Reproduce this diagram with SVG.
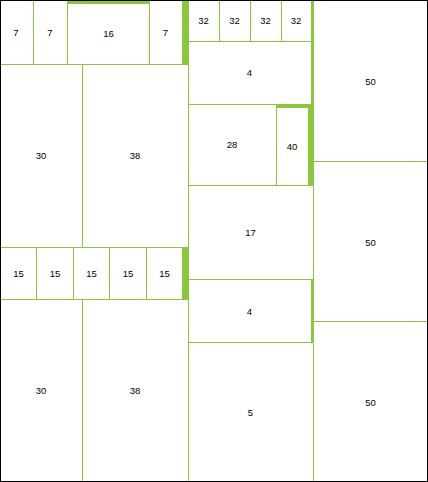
<svg xmlns="http://www.w3.org/2000/svg" width="428" height="482" viewBox="0 0 428 482">
<style>
.cell{fill:#fff;stroke:#8cc63e;stroke-width:1}
.gap{fill:#8cc63e}
.lbl{font-family:"Liberation Sans",Arial,sans-serif;font-size:9.5px;fill:#000;text-anchor:middle}
</style>
<rect x="0" y="0" width="428" height="482" fill="#fff"/>
<g id="gaps">
<rect class="gap" x="182" y="0" width="6" height="64"/>
<rect class="gap" x="67" y="0" width="82" height="3"/>
<rect class="gap" x="182" y="247" width="6" height="52"/>
<rect class="gap" x="311" y="0" width="2" height="104"/>
<rect class="gap" x="276" y="104" width="32" height="3"/>
<rect class="gap" x="308" y="104" width="5" height="81"/>
<rect class="gap" x="311" y="279" width="2" height="63"/>
</g>
<g id="n1"><rect class="cell" x="0.5" y="0.5" width="33" height="64"/><text class="lbl" x="16" y="35.5">7</text></g>
<g id="n2"><rect class="cell" x="33.5" y="0.5" width="34" height="64"/><text class="lbl" x="50" y="35.5">7</text></g>
<g id="n3"><rect class="cell" x="67.5" y="3.5" width="82" height="61"/><text class="lbl" x="108.5" y="37">16</text></g>
<g id="n4"><rect class="cell" x="149.5" y="0.5" width="33" height="64"/><text class="lbl" x="165.5" y="35.5">7</text></g>
<g id="n5"><rect class="cell" x="0.5" y="64.5" width="82" height="183"/><text class="lbl" x="41" y="159">30</text></g>
<g id="n6"><rect class="cell" x="82.5" y="64.5" width="106" height="183"/><text class="lbl" x="135" y="159">38</text></g>
<g id="n7"><rect class="cell" x="0.5" y="247.5" width="36" height="52"/><text class="lbl" x="18.5" y="276.5">15</text></g>
<g id="n8"><rect class="cell" x="36.5" y="247.5" width="37" height="52"/><text class="lbl" x="55" y="276.5">15</text></g>
<g id="n9"><rect class="cell" x="73.5" y="247.5" width="36" height="52"/><text class="lbl" x="91.5" y="276.5">15</text></g>
<g id="n10"><rect class="cell" x="109.5" y="247.5" width="37" height="52"/><text class="lbl" x="128" y="276.5">15</text></g>
<g id="n11"><rect class="cell" x="146.5" y="247.5" width="36" height="52"/><text class="lbl" x="164.5" y="276.5">15</text></g>
<g id="n12"><rect class="cell" x="0.5" y="299.5" width="82" height="183"/><text class="lbl" x="41" y="394">30</text></g>
<g id="n13"><rect class="cell" x="82.5" y="299.5" width="106" height="183"/><text class="lbl" x="135" y="394">38</text></g>
<g id="n14"><rect class="cell" x="188.5" y="0.5" width="31" height="41"/><text class="lbl" x="203.5" y="24">32</text></g>
<g id="n15"><rect class="cell" x="219.5" y="0.5" width="31" height="41"/><text class="lbl" x="234.5" y="24">32</text></g>
<g id="n16"><rect class="cell" x="250.5" y="0.5" width="31" height="41"/><text class="lbl" x="265.5" y="24">32</text></g>
<g id="n17"><rect class="cell" x="281.5" y="0.5" width="30" height="41"/><text class="lbl" x="296" y="24">32</text></g>
<g id="n18"><rect class="cell" x="188.5" y="41.5" width="123" height="63"/><text class="lbl" x="249.5" y="76">4</text></g>
<g id="n19"><rect class="cell" x="188.5" y="104.5" width="88" height="81"/><text class="lbl" x="232" y="148">28</text></g>
<g id="n20"><rect class="cell" x="276.5" y="107.5" width="32" height="78"/><text class="lbl" x="292" y="149.5">40</text></g>
<g id="n21"><rect class="cell" x="188.5" y="185.5" width="125" height="94"/><text class="lbl" x="250.5" y="236">17</text></g>
<g id="n22"><rect class="cell" x="188.5" y="279.5" width="123" height="63"/><text class="lbl" x="249.5" y="314.5">4</text></g>
<g id="n23"><rect class="cell" x="188.5" y="342.5" width="125" height="140"/><text class="lbl" x="250.5" y="416">5</text></g>
<g id="n24"><rect class="cell" x="313.5" y="0.5" width="115" height="161"/><text class="lbl" x="370.5" y="84.5">50</text></g>
<g id="n25"><rect class="cell" x="313.5" y="161.5" width="115" height="160"/><text class="lbl" x="370.5" y="245.5">50</text></g>
<g id="n26"><rect class="cell" x="313.5" y="321.5" width="115" height="161"/><text class="lbl" x="370.5" y="406">50</text></g>
<g id="connectors"></g>
<rect x="0.5" y="0.5" width="427" height="481" fill="none" stroke="#000" stroke-width="1"/>
</svg>
